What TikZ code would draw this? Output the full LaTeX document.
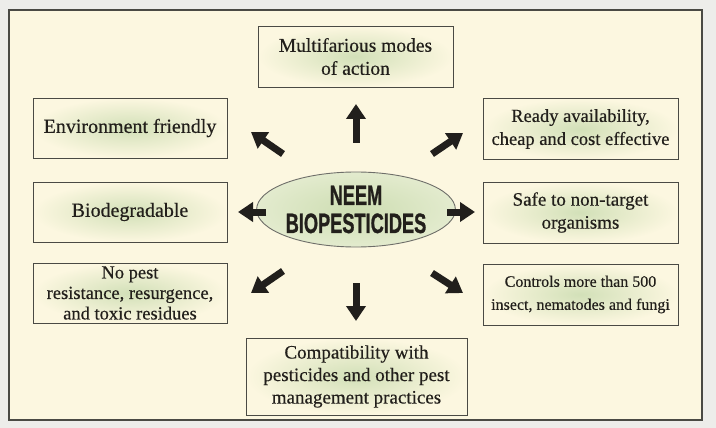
\documentclass[tikz,border=0pt]{standalone}
\usepackage{fontspec}
\usepackage{graphicx}
\setmainfont[FakeBold=0.4]{Liberation Serif}
\newfontfamily\headfont[BoldFeatures={FakeBold=1.2}]{Liberation Sans}
\usetikzlibrary{arrows.meta,shapes.geometric}
\definecolor{paper}{HTML}{EDEDEA}
\definecolor{cream}{HTML}{FCF7E0}
\definecolor{boxgreen}{HTML}{D2E0B8}
\definecolor{ellgreen}{HTML}{CDDDB2}
\definecolor{ellouter}{HTML}{E3EBCE}
\definecolor{boxline}{HTML}{4A4A44}
\definecolor{ink}{HTML}{221F1B}
\definecolor{arrowc}{HTML}{211F1C}
\tikzset{
  infobox/.style={draw=boxline, line width=0.8pt, shade, inner color=boxgreen, outer color=cream,
    align=center, text=ink, inner sep=0pt, font=\fontsize{19}{23}\selectfont},
  hub/.style={ellipse, draw=boxline!80, line width=0.9pt, shade, inner color=ellgreen, outer color=ellouter,
    minimum width=168pt, minimum height=75pt, inner sep=0pt, align=center, text=ink,
    font=\headfont\bfseries\fontsize{28}{29}\selectfont},
  bigarrow/.style={draw=arrowc, line width=7pt, -{Triangle[length=15pt,width=19pt]}}
}
\newcommand{\cond}[1]{\scalebox{0.65}[1]{#1}}
\begin{document}
\begin{tikzpicture}[x=1pt,y=-1pt]
\useasboundingbox (0,0) rectangle (716,428);
\fill[paper] (0,0) rectangle (716,428);
\draw[draw=boxline, line width=1.6pt, fill=cream] (9,10) rectangle (702,420);

% boxes
\node[infobox, minimum width=195pt, minimum height=61pt, font=\fontsize{19.5}{23}\selectfont] (top) at (355.5,56.5) {Multifarious modes\\of action};
\node[infobox, minimum width=194pt, minimum height=60pt, font=\fontsize{20}{23}\selectfont] (env) at (130,128) {Environment friendly};
\node[infobox, minimum width=194pt, minimum height=60pt, font=\fontsize{20}{23}\selectfont] (bio) at (130,212) {Biodegradable};
\node[infobox, minimum width=194pt, minimum height=60pt, font=\fontsize{18.5}{20.5}\selectfont] (nop) at (130,293) {No pest\\resistance, resurgence,\\and toxic residues};
\node[infobox, minimum width=195pt, minimum height=61pt, font=\fontsize{18.5}{23}\selectfont] (ready) at (580.5,129) {Ready availability,\\cheap and cost effective};
\node[infobox, minimum width=195pt, minimum height=61pt] (safe) at (580.5,212.5) {Safe to non-target\\organisms};
\node[infobox, minimum width=195pt, minimum height=61pt, font=\fontsize{16}{23}\selectfont] (ctrl) at (580.5,294.5) {Controls more than 500\\insect, nematodes and fungi};
\node[infobox, minimum width=221pt, minimum height=77pt, font=\fontsize{19}{22.5}\selectfont] (comp) at (356.5,376.5) {Compatibility with\\pesticides and other pest\\management practices};

% hub
\node[hub] (hub) at (356,209.5) {\cond{NEEM}\\[-1pt]\cond{BIOPESTICIDES}};

% arrow ends
\coordinate (aUt) at (356,143);  \coordinate (aUh) at (356,104);
\coordinate (aNWt) at (283,154); \coordinate (aNWh) at (251,132);
\coordinate (aNEt) at (432,154); \coordinate (aNEh) at (463,133);
\coordinate (aWt) at (266,212);  \coordinate (aWh) at (238,212);
\coordinate (aEt) at (447,212);  \coordinate (aEh) at (475,212);
\coordinate (aSWt) at (283,271); \coordinate (aSWh) at (251,293);
\coordinate (aDt) at (356,283);  \coordinate (aDh) at (356,321);
\coordinate (aSEt) at (432,273); \coordinate (aSEh) at (463,293);

\draw[bigarrow] (aUt) -- (aUh);
\draw[bigarrow] (aNWt) -- (aNWh);
\draw[bigarrow] (aNEt) -- (aNEh);
\draw[bigarrow] (aWt) -- (aWh);
\draw[bigarrow] (aEt) -- (aEh);
\draw[bigarrow] (aSWt) -- (aSWh);
\draw[bigarrow] (aDt) -- (aDh);
\draw[bigarrow] (aSEt) -- (aSEh);
\end{tikzpicture}
\end{document}
